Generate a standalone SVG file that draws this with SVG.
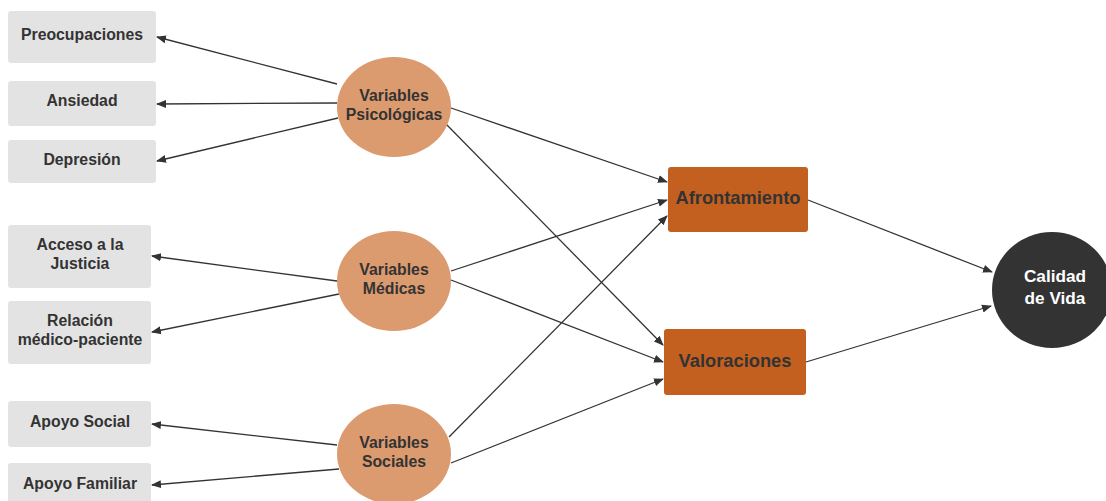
<svg xmlns="http://www.w3.org/2000/svg" width="1106" height="501" viewBox="0 0 1106 501">
<style>
.box{fill:#e3e3e3}
.var{fill:#dc9a6f}
.out{fill:#c4601f}
.t{font-family:"Liberation Sans",Arial,sans-serif;font-weight:bold;fill:#333;text-anchor:middle}
.s15{font-size:15.8px}
.s17{font-size:18.3px}
.w{fill:#fff;font-size:17.2px}
.c{stroke:#333;stroke-width:1.3;fill:none;marker-end:url(#ah)}
</style>
<defs>
<marker id="ah" viewBox="0 0 10 10" refX="9" refY="5" markerWidth="10" markerHeight="10" markerUnits="userSpaceOnUse" orient="auto">
<path d="M0,1 L10,5 L0,9 Z" fill="#333"/>
</marker>
</defs>
<rect width="1106" height="501" fill="#fff"/>
<g id="connectors">
<line class="c" x1="337" y1="84" x2="157" y2="37"/>
<line class="c" x1="337" y1="103" x2="157" y2="104"/>
<line class="c" x1="338" y1="118" x2="157" y2="161"/>
<line class="c" x1="451" y1="108" x2="667" y2="182"/>
<line class="c" x1="446" y1="124" x2="663" y2="345"/>
<line class="c" x1="337" y1="281" x2="152" y2="256"/>
<line class="c" x1="339" y1="294" x2="152" y2="332"/>
<line class="c" x1="451" y1="271" x2="667" y2="200"/>
<line class="c" x1="451" y1="280" x2="663" y2="362"/>
<line class="c" x1="337" y1="445" x2="152" y2="424"/>
<line class="c" x1="339" y1="469" x2="152" y2="485"/>
<line class="c" x1="449" y1="437" x2="667" y2="216"/>
<line class="c" x1="451" y1="463" x2="663" y2="379"/>
<line class="c" x1="808" y1="200" x2="992" y2="272"/>
<line class="c" x1="806" y1="362" x2="991" y2="306"/>
</g>
<g id="preocupaciones"><rect class="box" x="8" y="11" width="148" height="52" rx="3"/><text class="t s15" x="82" y="40">Preocupaciones</text></g>
<g id="ansiedad"><rect class="box" x="8" y="81" width="148" height="45" rx="3"/><text class="t s15" x="82" y="106">Ansiedad</text></g>
<g id="depresion"><rect class="box" x="8" y="140" width="148" height="43" rx="3"/><text class="t s15" x="82" y="165">Depresión</text></g>
<g id="acceso"><rect class="box" x="8" y="225" width="143" height="63" rx="3"/><text class="t s15" x="80" y="250">Acceso a la</text><text class="t s15" x="80" y="269">Justicia</text></g>
<g id="relacion"><rect class="box" x="8" y="301" width="143" height="63" rx="3"/><text class="t s15" x="80" y="326">Relación</text><text class="t s15" x="80" y="345">médico-paciente</text></g>
<g id="apoyo-social"><rect class="box" x="8" y="401" width="143" height="46" rx="3"/><text class="t s15" x="80" y="427">Apoyo Social</text></g>
<g id="apoyo-familiar"><rect class="box" x="8" y="463" width="143" height="46" rx="3"/><text class="t s15" x="80" y="489">Apoyo Familiar</text></g>
<g id="var-psicologicas"><ellipse class="var" cx="394" cy="107" rx="57" ry="50"/><text class="t s15" x="394" y="101">Variables</text><text class="t s15" x="394" y="120">Psicológicas</text></g>
<g id="var-medicas"><ellipse class="var" cx="394" cy="281" rx="57" ry="50"/><text class="t s15" x="394" y="275">Variables</text><text class="t s15" x="394" y="294">Médicas</text></g>
<g id="var-sociales"><ellipse class="var" cx="394" cy="454" rx="57" ry="50"/><text class="t s15" x="394" y="448">Variables</text><text class="t s15" x="394" y="467">Sociales</text></g>
<g id="afrontamiento"><rect class="out" x="668" y="167" width="140" height="65" rx="3"/><text class="t s17" x="738" y="204">Afrontamiento</text></g>
<g id="valoraciones"><rect class="out" x="664" y="329" width="142" height="66" rx="3"/><text class="t s17" x="735" y="367">Valoraciones</text></g>
<g id="calidad"><ellipse cx="1052" cy="290" rx="60" ry="58" fill="#333"/><text class="t w" x="1055" y="282">Calidad</text><text class="t w" x="1055" y="304">de Vida</text></g>
</svg>
